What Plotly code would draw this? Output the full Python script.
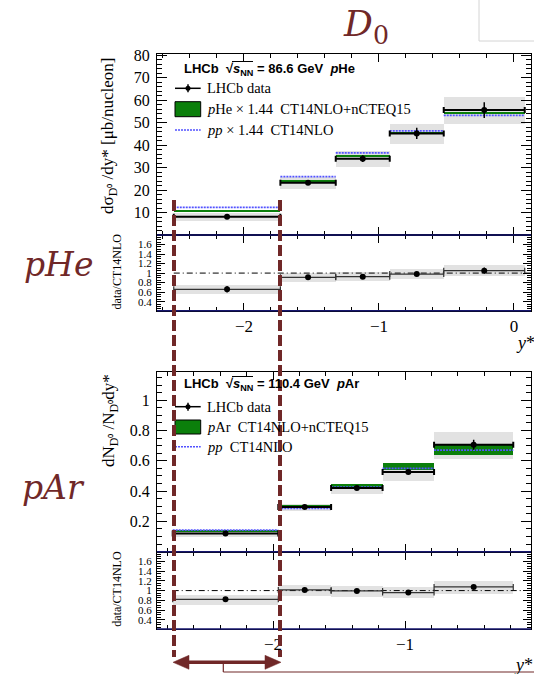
import plotly.graph_objects as go

# ---------------- data ----------------
# pHe, sqrt(sNN)=86.6 GeV
he_edges = [-2.52, -1.73, -1.32, -0.92, -0.52, 0.08]
he_data = [8.2, 23.3, 34.0, 45.2, 55.6]
he_stat = [0.6, 1.0, 1.5, 2.5, 3.5]
he_syst = [1.7, 2.6, 3.5, 4.3, 5.9]
he_nlo_pa = [11.0, 24.5, 35.3, 45.8, 54.5]
he_nlo_pa_unc = [0.25, 0.45, 0.45, 0.45, 0.65]
he_pp = [12.4, 26.0, 36.6, 46.3, 53.2]
he_ratio = [0.66, 0.91, 0.925, 0.98, 1.05]
he_ratio_stat = [0.07, 0.03, 0.03, 0.03, 0.065]
he_ratio_syst = [0.10, 0.10, 0.10, 0.10, 0.12]

# pAr, sqrt(sNN)=110.4 GeV
ar_edges = [-2.76, -1.96, -1.56, -1.17, -0.78, -0.18]
ar_data = [0.121, 0.296, 0.42, 0.526, 0.706]
ar_stat = [0.006, 0.006, 0.008, 0.012, 0.033]
ar_syst = [0.022, 0.025, 0.033, 0.057, 0.09]
ar_nlo_pa = [0.140, 0.302, 0.439, 0.565, 0.679]
ar_nlo_pa_unc = [0.009, 0.009, 0.011, 0.021, 0.036]
ar_pp = [0.143, 0.287, 0.426, 0.55, 0.671]
ar_ratio = [0.82, 1.014, 0.993, 0.96, 1.076]
ar_ratio_stat = [0.03, 0.03, 0.03, 0.03, 0.04]
ar_ratio_syst = [0.10, 0.11, 0.11, 0.11, 0.13]

x_ticks = [-2, -1, 0]
x_ticktext = ["\u22122", "\u22121", "0"]
he_y_ticks = [10, 20, 30, 40, 50, 60, 70, 80]
ar_y_ticks = [0.2, 0.4, 0.6, 0.8, 1.0]
ar_y_ticktext = ["0.2", "0.4", "0.6", "0.8", "1"]
ratio_ticks = [0.4, 0.6, 0.8, 1.0, 1.2, 1.4, 1.6]
ratio_ticktext = ["0.4", "0.6", "0.8", "1", "1.2", "1.4", "1.6"]

# ---------------- style / geometry ----------------
W, H = 534, 674
ML, MR = 157, 3
PW = W - ML - MR
BROWN = "#702828"
GREEN = "#0b7f0b"
BLUE = "#5252ff"
GREY = "#e2e2e2"
NAVY = "#16166e"
SERIF = "Liberation Serif"
SANS = "Liberation Sans"


def px(x):
    return (x - ML) / PW


def py(y):
    return 1 - y / H


def centers(e):
    return [(a + b) / 2 for a, b in zip(e[:-1], e[1:])]


def halfw(e):
    return [(b - a) / 2 for a, b in zip(e[:-1], e[1:])]


def widths(e):
    return [(b - a) for a, b in zip(e[:-1], e[1:])]


fig = go.Figure()


def add_main(edges, data, stat, syst, nlo, nlo_unc, pp, xa, ya):
    c = centers(edges)
    w = widths(edges)
    fig.add_trace(go.Bar(x=c, y=[2 * s for s in syst], base=[d - s for d, s in zip(data, syst)],
                         width=w, marker=dict(color=GREY, line=dict(width=0)),
                         xaxis=xa, yaxis=ya, hoverinfo="skip"))
    fig.add_trace(go.Bar(x=c, y=[2 * u for u in nlo_unc], base=[v - u for v, u in zip(nlo, nlo_unc)],
                         width=w, marker=dict(color=GREEN, line=dict(width=0)),
                         xaxis=xa, yaxis=ya, hoverinfo="skip"))
    xs, ys = [], []
    for a, b, v in zip(edges[:-1], edges[1:], pp):
        xs += [a, b, None]
        ys += [v, v, None]
    fig.add_trace(go.Scatter(x=xs, y=ys, mode="lines", line=dict(color=BLUE, width=1.8, dash="2px,1px"),
                             xaxis=xa, yaxis=ya, hoverinfo="skip"))
    fig.add_trace(go.Scatter(x=c, y=data, mode="markers", marker=dict(color="black", size=6),
                             error_x=dict(type="data", array=halfw(edges), color="black", thickness=2, width=3),
                             error_y=dict(type="data", array=stat, color="black", thickness=1.5, width=0),
                             xaxis=xa, yaxis=ya))


def add_ratio(edges, r, rstat, rsyst, xa, ya):
    c = centers(edges)
    fig.add_trace(go.Scatter(x=[edges[0], edges[-1] + 0.07], y=[1, 1], mode="lines",
                             line=dict(color="black", width=1, dash="6px,3px,1px,3px"),
                             xaxis=xa, yaxis=ya, hoverinfo="skip"))
    fig.add_trace(go.Bar(x=c, y=[2 * s for s in rsyst], base=[d - s for d, s in zip(r, rsyst)],
                         width=widths(edges), marker=dict(color=GREY, line=dict(width=0)),
                         xaxis=xa, yaxis=ya, hoverinfo="skip"))
    fig.add_trace(go.Scatter(x=c, y=r, mode="markers", marker=dict(color="black", size=6),
                             error_x=dict(type="data", array=halfw(edges), color="#333333", thickness=1.2, width=3),
                             error_y=dict(type="data", array=rstat, color="black", thickness=1.2, width=0),
                             xaxis=xa, yaxis=ya))


add_main(he_edges, he_data, he_stat, he_syst, he_nlo_pa, he_nlo_pa_unc, he_pp, "x", "y")
add_ratio(he_edges, he_ratio, he_ratio_stat, he_ratio_syst, "x2", "y2")
add_main(ar_edges, ar_data, ar_stat, ar_syst, ar_nlo_pa, ar_nlo_pa_unc, ar_pp, "x3", "y3")
add_ratio(ar_edges, ar_ratio, ar_ratio_stat, ar_ratio_syst, "x4", "y4")

common = dict(showgrid=False, zeroline=False, showline=True, linecolor="black", linewidth=1,
              mirror="ticks", ticks="inside", tickcolor="black", tickwidth=1, automargin=False)

he_range = [-2.644, -2.644 + PW / 135.0]
ar_range = [-2.879, -2.879 + PW / 132.0]

d_top_main = [py(235), py(53.5)]
d_top_ratio = [py(310.7), py(235)]
d_low_main = [py(551.7), py(371.5)]
d_low_ratio = [py(629), py(551.7)]


def xaxis(rng, anchor, labels):
    return dict(common, domain=[0, 1], range=rng, anchor=anchor, tickmode="array",
                tickvals=x_ticks, ticktext=x_ticktext, ticklen=8, showticklabels=labels,
                tickfont=dict(family=SERIF, size=17, color="black"),
                minor=dict(tickmode="linear", tick0=0, dtick=0.2, ticklen=4, ticks="inside", tickcolor="black"))


fig.update_layout(
    xaxis=xaxis(he_range, "y", False),
    xaxis2=xaxis(he_range, "y2", True),
    xaxis3=xaxis(ar_range, "y3", False),
    xaxis4=xaxis(ar_range, "y4", True),
    yaxis=dict(common, domain=d_top_main, range=[0.1, 80.7], anchor="x", tickmode="array",
               tickvals=he_y_ticks, ticklen=10, ticklabelstandoff=3,
               tickfont=dict(family=SERIF, size=16, color="black"),
               minor=dict(tickmode="linear", tick0=0, dtick=2, ticklen=5, ticks="inside", tickcolor="black")),
    yaxis2=dict(common, domain=d_top_ratio, range=[0.21, 1.8], anchor="x2", tickmode="array",
                tickvals=ratio_ticks, ticktext=ratio_ticktext, ticklen=8, ticklabelstandoff=2,
                tickfont=dict(family=SERIF, size=11, color="black"),
                minor=dict(tickmode="linear", tick0=0, dtick=0.05, ticklen=4, ticks="inside", tickcolor="black")),
    yaxis3=dict(common, domain=d_low_main, range=[0.0, 1.19], anchor="x3", tickmode="array",
                tickvals=ar_y_ticks, ticktext=ar_y_ticktext, ticklen=10, ticklabelstandoff=3,
                tickfont=dict(family=SERIF, size=16, color="black"),
                minor=dict(tickmode="linear", tick0=0, dtick=0.05, ticklen=5, ticks="inside", tickcolor="black")),
    yaxis4=dict(common, domain=d_low_ratio, range=[0.21, 1.8], anchor="x4", tickmode="array",
                tickvals=ratio_ticks, ticktext=ratio_ticktext, ticklen=8, ticklabelstandoff=2,
                tickfont=dict(family=SERIF, size=11, color="black"),
                minor=dict(tickmode="linear", tick0=0, dtick=0.05, ticklen=4, ticks="inside", tickcolor="black")),
)

shapes = []
ann = []


def line(x0, y0, x1, y1, color, width, dash=None):
    d = dict(type="line", xref="paper", yref="paper", x0=px(x0), y0=py(y0), x1=px(x1), y1=py(y1),
             line=dict(color=color, width=width), layer="above")
    if dash:
        d["line"]["dash"] = dash
    shapes.append(d)


def text(x, y, s, size, family=SERIF, color="black", xanchor="left", yanchor="middle", angle=0):
    ann.append(dict(x=px(x), y=py(y), xref="paper", yref="paper", text=s, showarrow=False,
                    xanchor=xanchor, yanchor=yanchor, textangle=angle,
                    font=dict(family=family, size=size, color=color)))


# navy separators of the ratio panels
for yy in (235, 310.7, 551.7, 629):
    line(157, yy, 531, yy, NAVY, 1.5)

# light grey box corner at top right
line(479, 0, 479, 41, "#d4d4d4", 1)
line(479, 41, 540, 41, "#d4d4d4", 1)

# legends
for (yh, yd, yg0, yg1, yp, head, gtxt, ptxt) in [
    (69, 88.3, 101.7, 116.7, 130,
     "<b>LHCb \u00a0\u221a<i>s</i><sub>NN</sub> = 86.6 GeV \u00a0<i>p</i>He</b>",
     "<i>p</i>He \u00d7 1.44 \u00a0CT14NLO+nCTEQ15", "<i>pp</i> \u00d7 1.44 \u00a0CT14NLO"),
    (384, 406.7, 420, 434, 446.7,
     "<b>LHCb \u00a0\u221a<i>s</i><sub>NN</sub> = 110.4 GeV \u00a0<i>p</i>Ar</b>",
     "<i>p</i>Ar \u00a0CT14NLO+nCTEQ15", "<i>pp</i> \u00a0CT14NLO")]:
    text(182, yh, head, 13, family=SANS)
    line(232, yh - 7.5, 253, yh - 7.5, "black", 1)
    line(175, yd, 200.7, yd, "black", 1.5)
    line(188, yd - 4, 188, yd + 4, "black", 1.5)
    shapes.append(dict(type="circle", xref="paper", yref="paper", x0=px(185.5), x1=px(190.5),
                       y0=py(yd + 2.5), y1=py(yd - 2.5), fillcolor="black", line=dict(width=0), layer="above"))
    text(205, yd, "LHCb data", 14.5)
    shapes.append(dict(type="rect", xref="paper", yref="paper", x0=px(175), x1=px(200.7),
                       y0=py(yg1), y1=py(yg0), fillcolor=GREEN, line=dict(color="black", width=1), layer="above"))
    text(205, (yg0 + yg1) / 2, gtxt, 14.5)
    line(175, yp, 200.7, yp, BLUE, 1.5, "2px,1px")
    text(205, yp, ptxt, 14.5)

# axis titles
text(109, 136, "d\u03c3<sub>D\u2070</sub> /dy* [\u03bcb/nucleon]", 17, xanchor="center", angle=-90)
text(116.7, 271.7, "data/CT14NLO", 12, xanchor="center", angle=-90)
text(110, 421, "dN<sub>D\u2070</sub> /N<sub>D\u2070</sub>dy*", 17, xanchor="center", angle=-90)
text(116.7, 589, "data/CT14NLO", 12, xanchor="center", angle=-90)
text(525, 343, "<i>y</i>*", 18, xanchor="center")
text(523, 665, "<i>y</i>*", 18, xanchor="center")

# big labels
text(58, 264, "<i>pHe</i>", 33, family="DejaVu Serif", color=BROWN, xanchor="center")
text(53, 487, "<i>pAr</i>", 33, family="DejaVu Serif", color=BROWN, xanchor="center")
text(366, 26, "<i>D</i><sub>0</sub>", 36, family="DejaVu Serif", color=BROWN, xanchor="center")

# brown dashed bracket lines and arrow
for xx in (174, 280):
    line(xx, 200, xx, 657, BROWN, 4, "11px,4px")
line(186, 662.3, 268, 662.3, BROWN, 3.5)


def path(pts):
    s = "M " + " L ".join(f"{px(a):.5f},{py(b):.5f}" for a, b in pts) + " Z"
    return dict(type="path", xref="paper", yref="paper", path=s, fillcolor=BROWN,
                line=dict(color=BROWN, width=0.5), layer="above")


shapes.append(path([(173, 662.3), (189, 655.3), (189, 669.3)]))
shapes.append(path([(281, 662.3), (265, 655.3), (265, 669.3)]))
line(223.3, 662.3, 223.3, 672, BROWN, 1.2)
line(223.3, 672, 540, 672, BROWN, 1.2)

fig.update_layout(
    shapes=shapes, annotations=ann,
    width=W, height=H, margin=dict(l=ML, r=MR, t=0, b=0),
    paper_bgcolor="white", plot_bgcolor="white", showlegend=False, barmode="overlay", bargap=0,
)

fig.write_html("out.html", config={"displayModeBar": False},
               post_script="document.body.style.margin='0px';document.body.style.overflow='hidden';")
